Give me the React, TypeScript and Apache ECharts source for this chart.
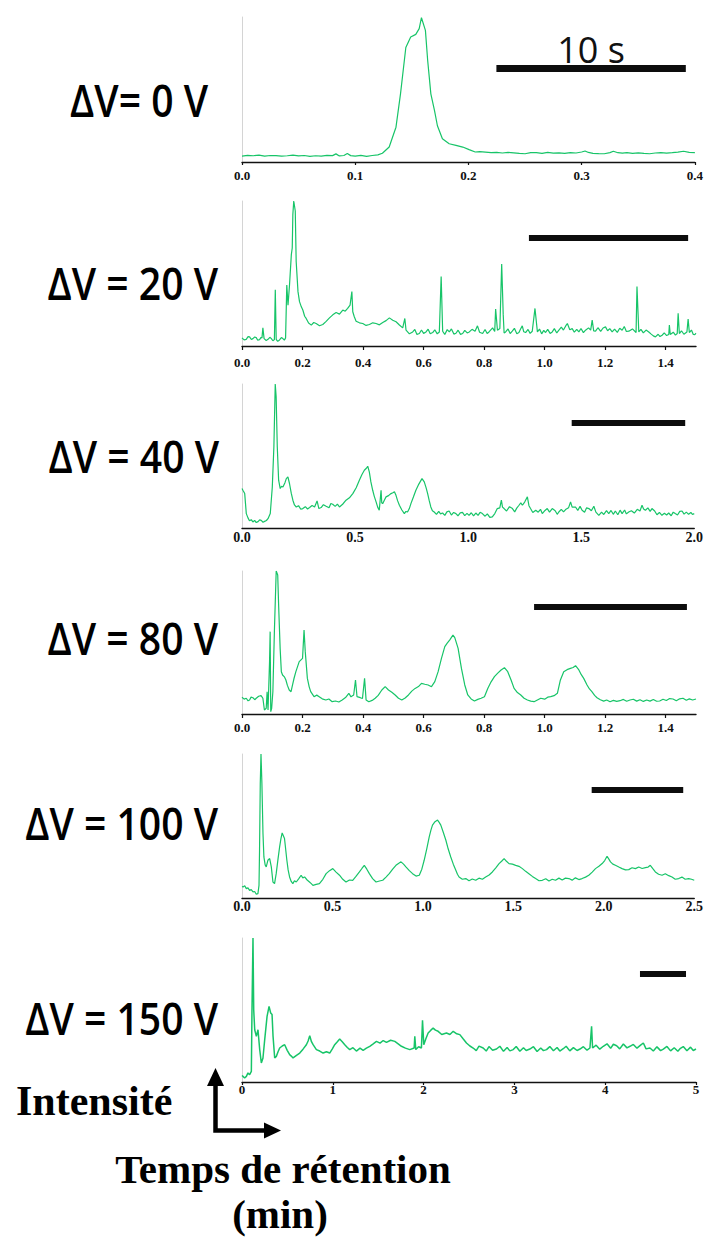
import React, { useEffect, useRef } from "react";
import * as echarts from "echarts";

// ---------- DATA (retention time in min, intensity in % of panel full scale) ----------
const trace0V: [number, number][] = [
  [0.000,4.1],[0.005,4.6],[0.010,4.3],[0.015,4.8],[0.020,4.1],[0.025,4.5],[0.030,4.4],[0.035,4.0],[0.040,4.3],[0.045,4.7],
  [0.050,4.2],[0.055,4.5],[0.060,3.9],[0.065,4.3],[0.070,4.1],[0.075,4.6],[0.080,4.4],[0.083,5.6],[0.086,4.2],[0.090,4.5],
  [0.093,5.8],[0.096,4.4],[0.100,4.1],[0.105,4.6],[0.110,3.9],[0.115,4.5],[0.120,4.9],[0.124,6.0],[0.130,10.3],[0.136,24.0],
  [0.140,47.0],[0.1447,79.0],[0.149,86.2],[0.1535,88.0],[0.1565,92.0],[0.1585,99.5],[0.162,90.8],[0.164,70.0],[0.1668,47.0],[0.170,35.6],
  [0.1726,25.0],[0.177,16.0],[0.183,12.6],[0.189,11.5],[0.195,10.3],[0.2006,8.5],[0.206,6.9],[0.210,7.1],[0.215,6.8],[0.220,6.4],
  [0.225,6.7],[0.230,6.2],[0.235,6.6],[0.240,6.3],[0.245,5.9],[0.250,5.7],[0.255,6.5],[0.260,6.4],[0.265,6.0],[0.270,6.6],
  [0.275,6.1],[0.280,6.3],[0.285,5.9],[0.290,6.5],[0.295,6.2],[0.300,6.9],[0.303,7.6],[0.306,6.6],[0.310,6.0],[0.315,5.8],
  [0.320,5.7],[0.325,6.5],[0.328,7.4],[0.332,6.4],[0.336,6.1],[0.340,6.4],[0.345,6.0],[0.350,6.3],[0.355,5.9],[0.360,5.7],
  [0.365,6.2],[0.370,6.5],[0.375,6.1],[0.380,6.4],[0.385,6.8],[0.390,7.4],[0.395,6.7],[0.400,6.5]
];

const trace20V: [number, number][] = [
  [0.000,5.6],[0.007,4.2],[0.014,4.6],[0.020,6.5],[0.025,6.3],[0.031,4.5],[0.036,5.1],[0.042,6.2],[0.047,5.8],[0.052,4.0],
  [0.058,4.4],[0.063,5.9],[0.066,5.6],[0.069,12.5],[0.073,5.1],[0.080,3.8],[0.086,4.6],[0.092,6.0],[0.097,5.1],[0.102,3.6],
  [0.107,4.4],[0.110,38.7],[0.113,4.6],[0.118,3.2],[0.124,4.2],[0.130,5.8],[0.135,5.1],[0.140,4.0],[0.144,5.6],[0.148,42.1],
  [0.152,28.2],[0.157,42.1],[0.163,63.0],[0.166,67.6],[0.168,90.7],[0.171,100],[0.176,93.1],[0.179,58.3],[0.185,37.5],[0.190,30.6],
  [0.196,27.0],[0.201,24.8],[0.207,20.5],[0.212,19.0],[0.220,15.8],[0.229,14.4],[0.237,16.2],[0.245,15.5],[0.256,14.0],[0.267,14.8],
  [0.278,17.0],[0.289,19.4],[0.300,21.5],[0.311,23.1],[0.322,22.0],[0.333,24.8],[0.341,24.0],[0.349,25.9],[0.357,28.2],[0.363,37.5],
  [0.366,23.6],[0.371,20.2],[0.377,17.1],[0.388,16.0],[0.399,15.5],[0.410,14.2],[0.421,14.8],[0.432,16.0],[0.443,15.5],[0.454,14.6],
  [0.465,16.2],[0.476,17.5],[0.487,19.4],[0.498,17.8],[0.509,16.7],[0.520,14.5],[0.531,12.5],[0.538,19.0],[0.542,10.9],[0.553,8.4],
  [0.564,9.7],[0.571,11.4],[0.578,8.0],[0.586,8.6],[0.593,11.0],[0.600,8.7],[0.608,9.7],[0.615,11.6],[0.622,8.5],[0.630,9.3],
  [0.637,11.2],[0.645,8.4],[0.652,9.7],[0.658,47.9],[0.663,10.2],[0.670,8.0],[0.678,11.3],[0.685,9.7],[0.692,11.8],[0.700,8.2],
  [0.707,8.8],[0.714,10.9],[0.722,8.0],[0.729,8.6],[0.736,10.8],[0.744,9.0],[0.751,9.7],[0.760,11.5],[0.770,10.2],[0.778,13.9],
  [0.785,9.5],[0.795,8.6],[0.803,11.4],[0.810,8.6],[0.816,9.7],[0.828,12.5],[0.835,10.0],[0.838,25.5],[0.844,10.9],[0.852,12.0],
  [0.858,56.5],[0.863,21.8],[0.866,9.0],[0.871,9.7],[0.879,11.8],[0.886,8.6],[0.893,10.2],[0.900,12.2],[0.908,8.5],[0.915,9.3],
  [0.920,11.6],[0.926,13.9],[0.931,9.8],[0.937,9.3],[0.945,11.4],[0.952,8.7],[0.959,10.2],[0.968,25.9],[0.976,9.7],[0.983,11.7],
  [0.990,8.4],[0.997,10.8],[1.003,9.3],[1.010,11.5],[1.018,8.7],[1.025,9.7],[1.032,12.0],[1.040,9.0],[1.047,10.9],[1.055,13.0],
  [1.062,11.0],[1.070,14.0],[1.075,15.5],[1.083,11.2],[1.091,12.0],[1.098,9.5],[1.106,11.4],[1.113,9.7],[1.120,12.1],[1.128,9.2],
  [1.135,10.9],[1.145,12.5],[1.152,11.0],[1.157,17.8],[1.162,10.4],[1.168,10.2],[1.176,12.6],[1.185,10.1],[1.193,12.4],[1.201,13.2],
  [1.208,10.5],[1.215,12.0],[1.223,9.7],[1.231,11.6],[1.240,9.4],[1.248,12.2],[1.256,10.9],[1.263,13.4],[1.270,10.0],[1.278,10.2],
  [1.290,11.8],[1.302,9.3],[1.305,41.0],[1.311,9.7],[1.318,11.5],[1.326,9.0],[1.335,11.0],[1.344,9.7],[1.352,8.2],[1.359,7.0],
  [1.366,6.3],[1.375,8.1],[1.381,6.5],[1.388,7.4],[1.395,9.0],[1.403,7.2],[1.410,7.9],[1.412,14.4],[1.415,7.9],[1.425,9.5],
  [1.432,7.5],[1.438,8.6],[1.441,22.5],[1.445,8.6],[1.452,10.5],[1.460,8.1],[1.470,9.7],[1.474,18.5],[1.478,9.3],[1.485,11.0],
  [1.491,8.0],[1.496,7.9],[1.500,8.8]
];

const trace40V: [number, number][] = [
  [0.000,27.4],[0.004,26.2],[0.012,23.9],[0.019,10.0],[0.026,7.2],[0.033,5.0],[0.041,5.8],[0.048,4.2],[0.056,5.3],[0.063,3.8],
  [0.071,4.4],[0.078,5.6],[0.085,5.3],[0.093,4.0],[0.100,4.6],[0.108,5.2],[0.115,6.5],[0.125,10.0],[0.134,28.5],[0.141,56.4],
  [0.147,100],[0.151,91.2],[0.156,56.4],[0.162,33.2],[0.169,27.4],[0.175,29.0],[0.181,28.5],[0.190,31.5],[0.196,34.3],[0.203,35.5],
  [0.210,30.9],[0.218,24.0],[0.225,19.3],[0.232,16.0],[0.240,14.6],[0.250,15.5],[0.260,13.0],[0.269,13.5],[0.280,14.8],[0.290,13.2],
  [0.299,14.2],[0.310,15.6],[0.321,14.6],[0.332,18.8],[0.340,13.5],[0.350,14.2],[0.360,16.2],[0.372,15.1],[0.385,14.0],[0.393,17.0],
  [0.401,16.5],[0.412,15.0],[0.422,16.6],[0.431,14.6],[0.445,16.5],[0.460,19.3],[0.475,21.0],[0.490,23.9],[0.505,28.0],[0.519,33.2],
  [0.530,37.0],[0.541,40.1],[0.550,41.5],[0.556,42.9],[0.563,39.0],[0.570,32.0],[0.578,26.2],[0.585,22.0],[0.593,18.1],[0.600,14.5],
  [0.607,12.3],[0.615,26.2],[0.618,17.5],[0.622,16.9],[0.630,19.5],[0.637,21.6],[0.648,22.5],[0.659,23.9],[0.667,24.5],[0.674,25.1],
  [0.681,22.7],[0.688,19.0],[0.696,15.8],[0.707,12.5],[0.718,10.0],[0.725,11.5],[0.732,11.1],[0.740,13.5],[0.747,16.9],[0.758,21.5],
  [0.769,26.2],[0.782,30.5],[0.796,34.3],[0.806,32.0],[0.814,28.0],[0.821,23.9],[0.828,19.0],[0.835,14.6],[0.842,12.0],[0.850,11.1],
  [0.860,9.5],[0.870,11.5],[0.878,9.8],[0.887,10.4],[0.897,8.8],[0.906,11.2],[0.916,11.8],[0.926,9.0],[0.936,10.8],[0.946,10.0],
  [0.955,8.5],[0.965,10.5],[0.975,10.9],[0.985,8.6],[0.995,10.2],[1.004,8.8],[1.014,10.6],[1.024,8.4],[1.034,10.4],[1.044,8.8],
  [1.053,10.9],[1.063,10.0],[1.075,8.2],[1.085,9.8],[1.096,7.4],[1.107,7.7],[1.118,10.0],[1.129,13.5],[1.140,14.0],[1.147,19.3],
  [1.152,14.5],[1.159,13.5],[1.170,11.8],[1.183,14.8],[1.196,13.5],[1.206,11.2],[1.215,13.8],[1.225,15.8],[1.233,17.5],[1.240,15.8],
  [1.250,18.0],[1.262,21.6],[1.269,15.5],[1.276,13.5],[1.286,10.8],[1.299,12.3],[1.310,11.0],[1.320,13.0],[1.328,10.0],[1.340,12.2],
  [1.350,13.5],[1.360,11.0],[1.372,13.5],[1.385,12.0],[1.394,9.5],[1.401,11.1],[1.412,13.0],[1.422,11.2],[1.431,12.8],[1.444,14.0],
  [1.453,18.1],[1.460,14.5],[1.475,14.6],[1.485,12.2],[1.495,15.0],[1.504,12.3],[1.515,11.0],[1.524,14.0],[1.534,13.5],[1.545,12.0],
  [1.556,15.1],[1.565,11.0],[1.578,8.8],[1.590,11.0],[1.600,9.4],[1.612,12.0],[1.622,10.0],[1.632,12.2],[1.642,9.5],[1.651,11.8],
  [1.662,9.2],[1.672,12.4],[1.681,10.0],[1.692,12.5],[1.700,9.8],[1.710,11.1],[1.722,12.0],[1.735,10.4],[1.748,13.0],[1.760,11.8],
  [1.769,15.8],[1.776,13.2],[1.784,12.3],[1.795,14.0],[1.805,11.5],[1.813,13.5],[1.825,11.8],[1.835,9.2],[1.846,10.8],[1.857,8.8],
  [1.868,10.2],[1.878,9.0],[1.887,10.4],[1.898,8.5],[1.907,11.0],[1.916,10.0],[1.926,9.0],[1.936,11.5],[1.946,11.8],[1.955,9.6],
  [1.965,11.0],[1.975,9.5],[1.985,10.8],[1.992,9.4],[2.000,10.0]
];

const trace80V: [number, number][] = [
  [0.000,11.7],[0.007,10.4],[0.014,11.0],[0.020,9.2],[0.025,9.8],[0.030,11.8],[0.036,11.4],[0.042,10.0],[0.047,11.0],[0.055,12.4],
  [0.063,12.8],[0.069,11.0],[0.074,2.8],[0.080,4.0],[0.083,15.6],[0.086,2.8],[0.091,36.6],[0.093,57.6],[0.095,1.6],[0.098,4.0],
  [0.102,15.6],[0.107,57.6],[0.113,100],[0.118,97.2],[0.121,76.2],[0.126,45.9],[0.130,29.6],[0.134,27.3],[0.140,26.0],[0.145,23.8],
  [0.150,20.0],[0.156,16.8],[0.162,15.6],[0.167,20.3],[0.172,25.0],[0.178,29.6],[0.189,36.6],[0.200,38.9],[0.205,58.7],[0.209,43.6],
  [0.216,24.9],[0.222,19.0],[0.227,15.6],[0.238,12.1],[0.247,13.2],[0.255,12.1],[0.265,10.6],[0.277,9.8],[0.287,10.5],[0.298,8.6],
  [0.309,9.1],[0.320,8.4],[0.331,9.8],[0.342,11.5],[0.353,14.5],[0.360,12.0],[0.369,13.3],[0.375,23.8],[0.380,12.1],[0.391,11.4],
  [0.398,10.8],[0.405,24.9],[0.410,9.8],[0.419,8.6],[0.430,9.5],[0.440,11.0],[0.450,13.0],[0.462,16.8],[0.473,19.1],[0.484,16.8],
  [0.495,15.2],[0.506,13.3],[0.517,11.0],[0.528,9.8],[0.539,11.2],[0.550,13.3],[0.561,16.0],[0.572,17.9],[0.583,19.2],[0.593,21.4],
  [0.604,20.8],[0.615,20.3],[0.626,19.1],[0.637,22.6],[0.648,29.6],[0.659,38.9],[0.670,47.1],[0.678,49.5],[0.686,51.7],[0.697,55.2],
  [0.703,53.4],[0.714,45.9],[0.725,31.9],[0.736,20.3],[0.746,13.3],[0.757,10.5],[0.768,9.1],[0.779,10.2],[0.790,11.0],[0.801,12.1],
  [0.812,17.9],[0.823,22.5],[0.834,26.1],[0.845,28.6],[0.856,30.8],[0.867,32.4],[0.878,29.6],[0.889,23.8],[0.899,17.9],[0.910,15.0],
  [0.921,13.3],[0.932,11.0],[0.943,9.8],[0.954,9.0],[0.965,8.6],[0.976,9.8],[0.987,11.0],[1.000,10.4],[1.010,11.8],[1.020,12.1],
  [1.031,12.8],[1.042,14.5],[1.052,23.8],[1.063,29.6],[1.074,31.0],[1.085,31.9],[1.094,32.5],[1.102,33.8],[1.113,30.8],[1.121,27.5],
  [1.129,24.9],[1.140,20.3],[1.148,17.5],[1.156,15.6],[1.165,13.0],[1.173,11.4],[1.184,10.0],[1.195,9.0],[1.205,9.8],[1.216,8.6],
  [1.227,9.5],[1.238,8.8],[1.249,9.3],[1.260,10.2],[1.271,8.9],[1.282,9.8],[1.293,10.3],[1.304,9.0],[1.315,10.0],[1.326,8.8],
  [1.337,9.8],[1.348,9.0],[1.359,10.2],[1.370,8.9],[1.380,9.1],[1.391,10.3],[1.402,9.4],[1.413,10.8],[1.424,10.5],[1.435,9.2],
  [1.446,10.6],[1.457,11.0],[1.468,9.6],[1.478,10.6],[1.489,9.8],[1.500,10.5]
];

const trace100V: [number, number][] = [
  [0.000,8.0],[0.006,7.7],[0.015,8.5],[0.024,6.5],[0.033,7.0],[0.042,5.3],[0.051,5.8],[0.061,4.2],[0.070,4.5],[0.079,2.6],
  [0.088,3.0],[0.094,8.8],[0.097,33.2],[0.101,79.6],[0.105,100],[0.110,79.6],[0.116,44.8],[0.121,28.5],[0.128,23.0],[0.134,21.6],
  [0.143,26.2],[0.153,27.4],[0.162,21.6],[0.171,11.1],[0.180,10.0],[0.189,16.9],[0.199,27.0],[0.208,35.5],[0.215,41.0],[0.222,45.2],
  [0.235,41.3],[0.248,26.2],[0.255,19.5],[0.263,14.6],[0.272,11.5],[0.281,10.0],[0.290,12.0],[0.300,11.1],[0.314,13.5],[0.327,15.8],
  [0.336,14.0],[0.346,14.6],[0.360,12.5],[0.373,11.1],[0.383,10.0],[0.392,8.8],[0.410,9.5],[0.428,10.0],[0.447,13.0],[0.465,16.9],
  [0.484,19.0],[0.502,20.4],[0.520,18.0],[0.539,15.8],[0.557,13.0],[0.575,11.1],[0.594,12.5],[0.612,12.3],[0.630,15.0],[0.649,18.1],
  [0.663,20.5],[0.676,22.7],[0.690,20.0],[0.704,16.9],[0.722,13.5],[0.741,11.1],[0.760,11.8],[0.778,12.3],[0.796,14.5],[0.814,16.9],
  [0.833,20.0],[0.851,22.7],[0.865,24.0],[0.879,25.1],[0.893,23.5],[0.906,21.6],[0.925,19.0],[0.943,16.9],[0.962,15.2],[0.980,15.8],
  [0.994,20.0],[1.007,26.2],[1.021,34.0],[1.035,42.5],[1.044,47.0],[1.053,50.6],[1.067,53.0],[1.081,54.1],[1.090,52.5],[1.099,50.6],
  [1.113,45.5],[1.127,40.1],[1.140,34.0],[1.154,28.5],[1.168,23.5],[1.182,19.3],[1.191,16.5],[1.200,14.6],[1.218,13.0],[1.237,13.5],
  [1.255,12.0],[1.273,13.2],[1.292,12.3],[1.310,13.8],[1.329,13.0],[1.347,14.6],[1.366,16.0],[1.384,18.1],[1.403,21.0],[1.421,23.9],
  [1.435,25.5],[1.449,27.4],[1.462,25.5],[1.476,23.9],[1.495,23.5],[1.513,22.7],[1.531,22.0],[1.550,20.4],[1.568,18.5],[1.586,16.9],
  [1.605,15.0],[1.623,13.5],[1.642,12.0],[1.660,12.3],[1.679,13.4],[1.697,11.8],[1.715,13.0],[1.733,12.3],[1.752,13.8],[1.770,12.5],
  [1.788,13.8],[1.807,13.5],[1.825,12.4],[1.843,14.0],[1.862,12.8],[1.880,13.5],[1.899,14.5],[1.917,15.8],[1.936,18.0],[1.954,20.4],
  [1.973,22.0],[1.991,23.9],[2.005,26.0],[2.018,29.0],[2.028,27.0],[2.037,25.1],[2.050,23.5],[2.064,22.7],[2.083,21.5],[2.101,20.4],
  [2.120,19.5],[2.138,19.7],[2.156,21.0],[2.175,20.4],[2.193,21.5],[2.212,20.5],[2.230,21.1],[2.245,21.5],[2.257,22.7],[2.270,20.5],
  [2.285,18.1],[2.303,16.5],[2.322,15.8],[2.340,16.8],[2.359,15.5],[2.377,14.6],[2.395,13.0],[2.414,13.5],[2.432,14.5],[2.450,13.0],
  [2.469,13.5],[2.485,13.0],[2.500,12.3]
];

const trace150V: [number, number][] = [
  [0.000,4.5],[0.011,3.9],[0.029,2.8],[0.048,3.9],[0.066,6.3],[0.084,5.1],[0.103,7.4],[0.110,50.2],[0.121,100],[0.129,50.2],
  [0.140,36.3],[0.158,31.7],[0.176,36.3],[0.195,22.5],[0.213,13.2],[0.231,16.7],[0.250,29.4],[0.276,45.6],[0.298,52.5],[0.316,47.9],
  [0.331,46.8],[0.342,31.7],[0.360,16.7],[0.378,17.8],[0.397,21.0],[0.415,23.6],[0.443,25.0],[0.470,25.9],[0.498,22.0],[0.525,19.0],
  [0.543,18.0],[0.562,16.7],[0.600,18.5],[0.636,20.1],[0.672,22.8],[0.709,25.9],[0.728,28.5],[0.746,32.2],[0.765,28.0],[0.783,25.9],
  [0.819,22.5],[0.856,21.5],[0.893,20.1],[0.930,21.0],[0.966,20.1],[0.995,23.0],[1.021,25.9],[1.050,28.0],[1.076,29.9],[1.104,28.0],
  [1.132,25.9],[1.160,24.0],[1.187,22.5],[1.222,23.8],[1.260,21.5],[1.300,23.5],[1.334,22.0],[1.370,23.5],[1.407,24.8],[1.445,26.5],
  [1.481,28.2],[1.520,27.0],[1.555,28.8],[1.591,27.5],[1.637,29.0],[1.683,28.2],[1.720,26.5],[1.756,24.8],[1.800,23.5],[1.848,22.5],
  [1.896,23.6],[1.903,31.7],[1.914,22.5],[1.945,24.5],[1.976,23.6],[1.988,42.8],[2.002,25.9],[2.025,30.0],[2.050,34.0],[2.080,36.0],
  [2.105,37.5],[2.130,36.0],[2.160,35.2],[2.200,33.0],[2.252,34.0],[2.290,33.0],[2.326,35.2],[2.365,33.5],[2.399,32.9],[2.435,30.0],
  [2.472,27.1],[2.510,25.0],[2.546,23.6],[2.580,21.8],[2.610,24.9],[2.656,23.6],[2.690,21.5],[2.720,24.6],[2.760,22.0],[2.803,22.9],
  [2.840,24.8],[2.880,21.3],[2.920,23.9],[2.950,21.6],[2.987,22.5],[3.020,24.7],[3.060,21.4],[3.100,23.8],[3.130,21.9],[3.170,22.9],
  [3.210,24.5],[3.250,21.2],[3.290,23.6],[3.320,21.8],[3.354,22.5],[3.390,24.6],[3.430,21.7],[3.470,24.0],[3.500,21.5],[3.538,23.1],
  [3.570,24.8],[3.610,21.6],[3.650,23.9],[3.690,21.9],[3.722,22.9],[3.760,24.5],[3.800,22.1],[3.832,23.6],[3.850,38.7],[3.861,23.6],
  [3.900,25.6],[3.940,22.8],[3.979,24.8],[4.020,26.5],[4.060,23.4],[4.090,26.2],[4.126,25.2],[4.160,23.0],[4.200,26.4],[4.240,23.7],
  [4.273,24.8],[4.310,26.1],[4.350,23.5],[4.390,25.6],[4.420,27.1],[4.450,23.0],[4.493,23.6],[4.530,21.5],[4.570,24.4],[4.610,21.8],
  [4.640,22.9],[4.680,24.7],[4.720,21.6],[4.760,23.8],[4.800,21.4],[4.824,23.1],[4.860,24.6],[4.900,21.7],[4.940,24.2],[4.970,21.9],
  [5.000,22.9]
];

const traces = [trace0V, trace20V, trace40V, trace80V, trace100V, trace150V];
const panelLabels = ["ΔV= 0 V", "ΔV = 20 V", "ΔV = 40 V", "ΔV = 80 V", "ΔV = 100 V", "ΔV = 150 V"];
const xMax = [0.4, 1.5, 2.0, 1.5, 2.5, 5];
const tickInterval = [0.1, 0.2, 0.5, 0.2, 0.5, 1];
const tickValues = [
  [0, 0.1, 0.2, 0.3, 0.4],
  [0, 0.2, 0.4, 0.6, 0.8, 1.0, 1.2, 1.4],
  [0, 0.5, 1.0, 1.5, 2.0],
  [0, 0.2, 0.4, 0.6, 0.8, 1.0, 1.2, 1.4],
  [0, 0.5, 1.0, 1.5, 2.0, 2.5],
  [0, 1, 2, 3, 4, 5],
];
const tickDecimals = [1, 1, 1, 1, 1, 0];
// scale bars (in data units): start time, end time, intensity level
const barStart = [0.2247, 0.948, 1.458, 0.965, 1.933, 4.383];
const barEnd = [0.392, 1.474, 1.960, 1.470, 2.439, 4.890];
const barLevel = [64.8, 74.5, 72.9, 74.8, 75.0, 75.0];
const barCaption = "10 s";
const yAxisTitle = "Intensité";
const xAxisTitle1 = "Temps de rétention";
const xAxisTitle2 = "(min)";

// ---------- LAYOUT ----------
const W = 706;
const H = 1238;
const GRID_LEFT = 242;
const GRID_WIDTH = 454;
const gridTop = [17, 201, 384, 571, 754, 938];
const gridHeight = [145, 145, 144, 143, 144, 144];
const labelFont = [13, 13, 14, 13, 14, 13];
const labelMargin = [7, 10, 2, 7, 1, 1];
const tickLen = [3, 4, 0, 4, 0, 3];
const barWidth = [7, 6, 6, 6, 6, 6];
const labelRight = [208, 218, 219, 218, 218, 218];
const labelCenterY = [99, 282, 455, 637, 822, 1017];
const GREEN = "#17c468";

function buildOption() {
  const grid: any[] = [];
  const xAxis: any[] = [];
  const yAxis: any[] = [];
  const series: any[] = [];
  for (let i = 0; i < 6; i++) {
    grid.push({ left: GRID_LEFT, width: GRID_WIDTH, top: gridTop[i], height: gridHeight[i], containLabel: false });
    const dec = tickDecimals[i];
    const vals = tickValues[i];
    xAxis.push({
      gridIndex: i,
      type: "value",
      min: 0,
      max: xMax[i],
      interval: tickInterval[i],
      axisLine: { show: true, onZero: false, lineStyle: { color: "#111", width: 1.4 } },
      axisTick: {
        show: tickLen[i] > 0,
        length: tickLen[i],
        customValues: vals,
        lineStyle: { color: "#111", width: 1.2 },
      },
      axisLabel: {
        show: true,
        customValues: vals,
        margin: labelMargin[i],
        fontFamily: "'Liberation Serif', serif",
        fontWeight: "bold",
        fontSize: labelFont[i],
        color: "#111",
        showMinLabel: true,
        showMaxLabel: true,
        formatter: (v: number) => {
          const ok = vals.some((t) => Math.abs(t - v) < 1e-6);
          return ok ? v.toFixed(dec) : "";
        },
      },
      splitLine: { show: false },
    });
    yAxis.push({
      gridIndex: i,
      type: "value",
      min: 0,
      max: 100,
      axisLine: { show: true, lineStyle: { color: "#d4d4d4", width: 1 } },
      axisTick: { show: false },
      axisLabel: { show: false },
      splitLine: { show: false },
    });
    series.push({
      type: "line",
      xAxisIndex: i,
      yAxisIndex: i,
      data: traces[i],
      showSymbol: false,
      symbol: "none",
      smooth: false,
      lineStyle: { color: GREEN, width: i === 5 ? 1.5 : 1.2 },
      itemStyle: { color: GREEN },
      silent: true,
      markLine: {
        silent: true,
        symbol: ["none", "none"],
        animation: false,
        lineStyle: { color: "#0d0d0d", width: barWidth[i], type: "solid", cap: "butt" },
        label:
          i === 0
            ? {
                show: true,
                position: "middle",
                formatter: barCaption,
                fontFamily: "'Open Sans', sans-serif",
                fontSize: 36,
                color: "#111",
                distance: 1,
              }
            : { show: false },
        emphasis: { disabled: true },
        data: [[{ coord: [barStart[i], barLevel[i]] }, { coord: [barEnd[i], barLevel[i]] }]],
      },
    });
  }

  const graphic: any[] = [];
  for (let i = 0; i < 6; i++) {
    graphic.push({
      type: "text",
      x: labelRight[i],
      y: labelCenterY[i],
      scaleX: 0.85,
      silent: true,
      style: {
        text: panelLabels[i],
        fontFamily: "'Open Sans', sans-serif",
        fontWeight: 600,
        fontSize: 46,
        fill: "#000",
        align: "right",
        verticalAlign: "middle",
        textAlign: "right",
        textVerticalAlign: "middle",
      },
    });
  }
  const serifBold = { fontFamily: "'Liberation Serif', serif", fontWeight: "bold", fill: "#000" };
  graphic.push({
    type: "text",
    x: 16,
    y: 1101,
    silent: true,
    style: { ...serifBold, text: yAxisTitle, fontSize: 42, align: "left", verticalAlign: "middle", textAlign: "left", textVerticalAlign: "middle" },
  });
  graphic.push({
    type: "text",
    x: 283,
    y: 1169,
    silent: true,
    style: { ...serifBold, text: xAxisTitle1, fontSize: 41, align: "center", verticalAlign: "middle", textAlign: "center", textVerticalAlign: "middle" },
  });
  graphic.push({
    type: "text",
    x: 280,
    y: 1214,
    silent: true,
    style: { ...serifBold, text: xAxisTitle2, fontSize: 41, align: "center", verticalAlign: "middle", textAlign: "center", textVerticalAlign: "middle" },
  });
  // axis arrows
  graphic.push({
    type: "polyline",
    silent: true,
    shape: { points: [[215.5, 1080], [215.5, 1130.5], [267, 1130.5]] },
    style: { stroke: "#000", lineWidth: 4.5, fill: null, lineJoin: "miter", lineCap: "butt" },
  });
  graphic.push({
    type: "polygon",
    silent: true,
    shape: { points: [[215.5, 1068], [207, 1086], [224, 1086]] },
    style: { fill: "#000" },
  });
  graphic.push({
    type: "polygon",
    silent: true,
    shape: { points: [[281, 1130.5], [264, 1122.5], [264, 1138.5]] },
    style: { fill: "#000" },
  });

  return {
    animation: false,
    backgroundColor: "#ffffff",
    grid,
    xAxis,
    yAxis,
    series,
    graphic,
  };
}

export default function App() {
  const ref = useRef<HTMLDivElement | null>(null);
  useEffect(() => {
    document.body.style.margin = "0";
    if (!ref.current) return;
    const chart = echarts.init(ref.current, null, { renderer: "svg", width: W, height: H });
    chart.setOption(buildOption() as any);
    return () => {
      chart.dispose();
    };
  }, []);
  return <div ref={ref} style={{ width: W, height: H }} />;
}
